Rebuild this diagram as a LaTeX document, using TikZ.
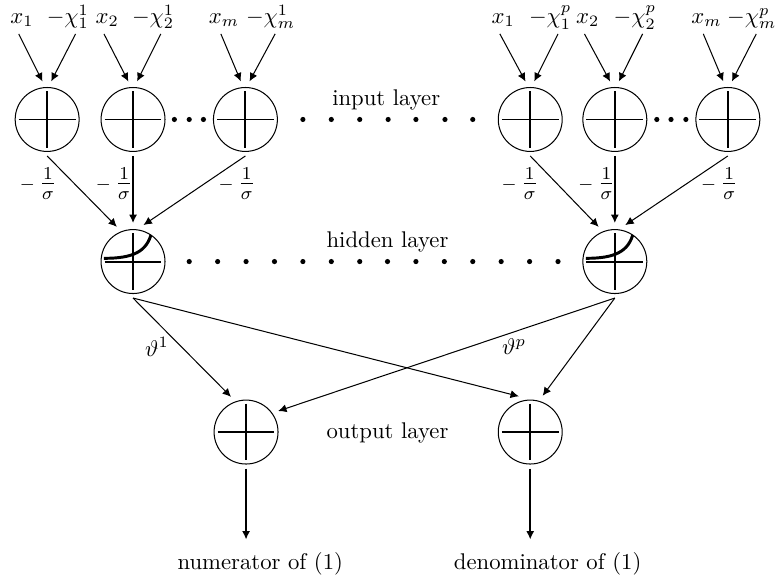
\documentclass[tikz,border=0pt]{standalone}
\usetikzlibrary{arrows.meta}
\newcommand{\negsig}{{\footnotesize$-$}\hspace{2pt}{\large$\frac{1}{\sigma}$}}
\begin{document}
\begin{tikzpicture}[
  >={Latex[length=.13cm,width=.125cm]},
  sumnode/.style={circle, draw, line width=.45pt, minimum size=.99cm, inner sep=0pt, outer sep=.07cm,
    path picture={
      \draw[line width=.85pt] ([yshift=.44cm]path picture bounding box.center) -- ([yshift=-.44cm]path picture bounding box.center);
      \draw[line width=.85pt] ([xshift=-.44cm]path picture bounding box.center) -- ([xshift=.44cm]path picture bounding box.center);
    }},
  expnode/.style={sumnode,
    path picture={
      \draw[line width=.85pt] ([yshift=.44cm]path picture bounding box.center) -- ([yshift=-.44cm]path picture bounding box.center);
      \draw[line width=.85pt] ([xshift=-.44cm]path picture bounding box.center) -- ([xshift=.44cm]path picture bounding box.center);
      \draw[line width=1.3pt] ([shift={(-.45,.05)}]path picture bounding box.center) .. controls ([shift={(0,.05)}]path picture bounding box.center) and ([shift={(.22,.15)}]path picture bounding box.center) .. ([shift={(.29,.46)}]path picture bounding box.center);
    }},
  inlab/.style={anchor=base, inner sep=0pt, text depth=4.5pt},
  conn/.style={->, line width=.45pt, shorten >=.03cm},
  vert/.style={->, line width=.8pt, shorten >=.03cm},
  dotfill/.style={fill=black}
]
\useasboundingbox (0,0) rectangle (12,8.92);
% input labels
\node[inlab] (xa1) at (0.34,8.56) {$x_1$};
\node[inlab] (chia1) at (1.05,8.56) {$-\chi_1^1$};
\node[inlab] (xa2) at (1.66,8.56) {$x_2$};
\node[inlab] (chia2) at (2.37,8.56) {$-\chi_2^1$};
\node[inlab] (xam) at (3.47,8.56) {$x_m$};
\node[inlab] (chiam) at (4.19,8.56) {$-\chi_m^1$};
\node[inlab] (xb1) at (7.79,8.56) {$x_1$};
\node[inlab] (chib1) at (8.52,8.56) {$-\chi_1^p$};
\node[inlab] (xb2) at (9.10,8.56) {$x_2$};
\node[inlab] (chib2) at (9.83,8.56) {$-\chi_2^p$};
\node[inlab] (xbm) at (10.94,8.56) {$x_m$};
\node[inlab] (chibm) at (11.64,8.56) {$-\chi_m^p$};
% input layer
\node[sumnode] (ina1) at (0.73,7.07) {};
\node[sumnode] (ina2) at (2.06,7.07) {};
\node[sumnode] (ina3) at (3.80,7.07) {};
\node[sumnode] (inb1) at (8.21,7.07) {};
\node[sumnode] (inb2) at (9.52,7.07) {};
\node[sumnode] (inb3) at (11.27,7.07) {};
% hidden and output layer
\node[expnode] (hida) at (2.06,4.87) {};
\node[expnode] (hidb) at (9.52,4.87) {};
\node[sumnode] (outa) at (3.81,2.23) {};
\node[sumnode] (outb) at (8.21,2.23) {};
% texts
\node (inputlab) at (5.98,7.37) {input layer};
\node (hiddenlab) at (6.00,5.17) {hidden layer};
\node (outputlab) at (6.00,2.21) {output layer};
\node[outer sep=.17cm, inner sep=0pt] (numer) at (4.03,0.19) {numerator of (1)};
\node[outer sep=.17cm, inner sep=0pt] (denom) at (8.48,0.19) {denominator of (1)};
\node (siga1) at (0.59,6.08) {\negsig};
\node (siga2) at (1.77,6.08) {\negsig};
\node (siga3) at (3.67,6.08) {\negsig};
\node (sigb1) at (8.05,6.08) {\negsig};
\node (sigb2) at (9.24,6.08) {\negsig};
\node (sigb3) at (11.14,6.08) {\negsig};
\node (thetaa) at (2.43,3.55) {$\vartheta^1$};
\node (thetab) at (7.96,3.55) {$\vartheta^p$};
% dots
\fill[dotfill] (2.70,7.07) circle (.04) (2.93,7.07) circle (.04) (3.15,7.07) circle (.04);
\fill[dotfill] (4.69,7.07) circle (.04) (5.13,7.07) circle (.04) (5.57,7.07) circle (.04) (6.01,7.07) circle (.04) (6.44,7.07) circle (.04) (6.89,7.07) circle (.04) (7.32,7.07) circle (.04);
\fill[dotfill] (10.17,7.07) circle (.04) (10.39,7.07) circle (.04) (10.62,7.07) circle (.04);
\fill[dotfill] (2.93,4.87) circle (.04) (3.37,4.87) circle (.04) (3.81,4.87) circle (.04) (4.25,4.87) circle (.04) (4.69,4.87) circle (.04) (5.13,4.87) circle (.04) (5.57,4.87) circle (.04) (6.00,4.87) circle (.04) (6.44,4.87) circle (.04) (6.88,4.87) circle (.04) (7.32,4.87) circle (.04) (7.76,4.87) circle (.04) (8.20,4.87) circle (.04) (8.64,4.87) circle (.04);
% inputs to first layer
\draw[conn] ([xshift=-.05cm]xa1.south) -- (ina1.96);
\draw[conn] ([xshift=.12cm]chia1.south) -- (ina1.85);
\draw[conn] ([xshift=-.05cm]xa2.south) -- (ina2.96);
\draw[conn] ([xshift=.12cm]chia2.south) -- (ina2.85);
\draw[conn] ([xshift=-.05cm]xam.south) -- (ina3.96);
\draw[conn] ([xshift=.07cm]chiam.south) -- (ina3.85);
\draw[conn] ([xshift=-.05cm]xb1.south) -- (inb1.96);
\draw[conn] ([xshift=.12cm]chib1.south) -- (inb1.85);
\draw[conn] ([xshift=-.05cm]xb2.south) -- (inb2.96);
\draw[conn] ([xshift=.12cm]chib2.south) -- (inb2.85);
\draw[conn] ([xshift=-.05cm]xbm.south) -- (inb3.96);
\draw[conn] ([xshift=.07cm]chibm.south) -- (inb3.85);
% first layer to hidden layer
\draw[conn] (ina1.south) -- (hida.114);
\draw[vert] (ina2.south) -- (hida.north);
\draw[conn] (ina3.south) -- (hida.76);
\draw[conn] (inb1.south) -- (hidb.114);
\draw[vert] (inb2.south) -- (hidb.north);
\draw[conn] (inb3.south) -- (hidb.76);
% hidden layer to output layer
\draw[conn] (hida.south) -- (outa.112);
\draw[conn] (hida.south) -- (outb.105);
\draw[conn] (hidb.south) -- (outa.34);
\draw[conn] (hidb.south) -- (outb.72);
% outputs
\draw[vert] (outa.south) -- (outa.south |- numer.north);
\draw[vert] (outb.south) -- (outb.south |- denom.north);
\end{tikzpicture}
\end{document}
